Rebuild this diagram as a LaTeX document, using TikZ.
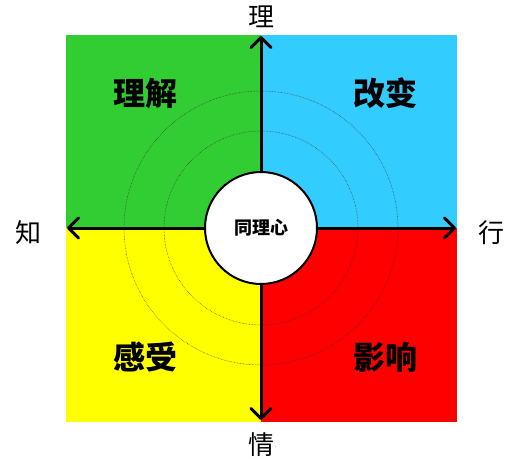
\documentclass[tikz,border=0pt]{standalone}
\usepackage{fontspec}
\setmainfont{Noto Sans CJK SC}
\usetikzlibrary{arrows.meta}

\begin{document}
\begin{tikzpicture}[x=1pt,y=-1pt,
    axis/.style={line width=3pt,-{Straight Barb[length=10pt,width=20pt,line cap=round,line join=round]}},
    ring/.style={densely dotted,line width=0.5pt,black!80},
    quad/.style={font=\fontsize{32}{32}\selectfont\bfseries},
    pole/.style={font=\fontsize{26}{26}\selectfont}]
        \useasboundingbox (0,0) rectangle (516,463);
        \fill[fill={rgb,255:red,50;green,205;blue,50}] (66,35) rectangle (261,228);
        \fill[fill={rgb,255:red,51;green,204;blue,255}] (261,35) rectangle (457,228);
        \fill[fill={rgb,255:red,255;green,255;blue,0}] (66,228) rectangle (261,422);
        \fill[fill={rgb,255:red,255;green,0;blue,0}] (261,228) rectangle (457,422);
        \coordinate (o) at (261,228);
        \coordinate (up) at (261,36);
        \coordinate (down) at (261,420);
        \coordinate (left) at (67,228);
        \coordinate (right) at (456,228);
        \draw[ring] (o) circle[radius=97];
        \draw[ring] (o) circle[radius=137];
        \draw[axis] (o) -- (up);
        \draw[axis] (o) -- (down);
        \draw[axis] (o) -- (left);
        \draw[axis] (o) -- (right);
        \node[circle,draw,line width=2pt,fill=white,minimum size=112pt,inner sep=0pt,font=\fontsize{18}{18}\selectfont\bfseries] (heart) at (o) {同理心};
        \node[quad] (understand) at (145,93) {理解};
        \node[quad] (change) at (385,93) {改变};
        \node[quad] (feel) at (145,357) {感受};
        \node[quad] (influence) at (385,357) {影响};
        \node[pole] (reason) at (261,17) {理};
        \node[pole] (emotion) at (261,445) {情};
        \node[pole] (know) at (28,233) {知};
        \node[pole] (act) at (491,233) {行};
      \end{tikzpicture}
\end{document}
